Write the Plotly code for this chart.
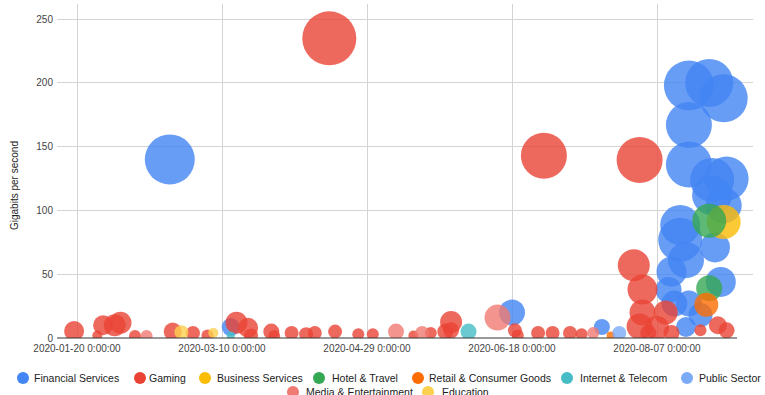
import plotly.graph_objects as go

# ---- data ----
categories = ["Financial Services", "Gaming", "Business Services", "Hotel & Travel",
              "Retail & Consumer Goods", "Internet & Telecom", "Public Sector",
              "Media & Entertainment", "Education"]
colors = ["#4285F4", "#EA4335", "#FBBC04", "#34A853", "#FF6D01", "#46BDC6",
          "#7BAAF7", "#F07B72", "#FCD04F"]

fin_dates = ["2020-02-21", "2020-03-13", "2020-06-18", "2020-07-19", "2020-08-18", "2020-08-25",
             "2020-08-30", "2020-08-18", "2020-08-18", "2020-08-31", "2020-08-26", "2020-08-26",
             "2020-08-30", "2020-08-15", "2020-08-15", "2020-08-17", "2020-08-27", "2020-08-12",
             "2020-08-29", "2020-08-11", "2020-08-13", "2020-08-18", "2020-08-22", "2020-08-17"]
fin_values = [140, 8.6, 20, 8.6, 198, 200, 188, 167, 136, 125, 124, 112,
              104, 88.6, 77, 61, 71, 52, 44, 37.6, 27, 27, 18, 8.6]
fin_sizes = [50, 18, 26, 16, 50, 48, 48, 46, 46, 44, 44, 40,
             36, 40, 44, 36, 30, 30, 30, 26, 26, 26, 24, 20]

gam_dates = ["2020-01-19", "2020-01-29", "2020-01-27", "2020-02-02", "2020-02-04", "2020-02-09",
             "2020-02-22", "2020-02-29", "2020-03-05", "2020-03-15", "2020-03-19", "2020-03-20",
             "2020-03-27", "2020-03-28", "2020-04-03", "2020-04-08", "2020-04-11", "2020-04-16",
             "2020-04-18", "2020-04-26", "2020-05-01", "2020-05-15", "2020-05-21", "2020-05-28",
             "2020-05-26", "2020-05-28", "2020-06-19", "2020-06-20", "2020-06-27", "2020-06-29",
             "2020-07-02", "2020-07-08", "2020-07-12", "2020-08-01", "2020-07-30", "2020-08-02",
             "2020-08-02", "2020-08-01", "2020-08-07", "2020-08-10", "2020-08-12", "2020-08-28",
             "2020-08-31", "2020-08-22", "2020-08-04"]
gam_values = [5.5, 10, 2, 10, 12, 1.5, 5, 4, 2, 12, 8, 2,
              5, 1.5, 4, 3, 4, 235, 5, 3, 3, 2, 4, 12.5,
              5, 6, 6, 2, 4, 143, 4, 4, 3, 139.5, 57, 38,
              20, 9, 8, 20, 4, 10, 6, 6, 4]
gam_sizes = [20, 20, 10, 22, 22, 12, 18, 14, 12, 22, 20, 14,
             16, 12, 14, 14, 14, 54, 14, 12, 12, 10, 12, 22,
             16, 16, 14, 12, 14, 46, 14, 14, 12, 46, 32, 30,
             26, 26, 24, 24, 16, 18, 16, 12, 16]

bus_dates = ["2020-08-30"]
bus_values = [91]
bus_sizes = [34]

hot_dates = ["2020-08-25", "2020-08-25"]
hot_values = [92, 39]
hot_sizes = [34, 26]

ret_dates = ["2020-08-24", "2020-07-22"]
ret_values = [26, 2]
ret_sizes = [24, 8]

int_dates = ["2020-06-03", "2020-03-13"]
int_values = [5, 2]
int_sizes = [16, 8]

pub_dates = ["2020-07-25"]
pub_values = [4]
pub_sizes = [14]

med_dates = ["2020-02-13", "2020-05-09", "2020-05-18", "2020-06-13", "2020-07-16"]
med_values = [1.5, 5, 4, 16, 4]
med_sizes = [12, 16, 14, 26, 12]

edu_dates = ["2020-02-25", "2020-03-07"]
edu_values = [4.5, 4]
edu_sizes = [14, 10]

series = [
    (fin_dates, fin_values, fin_sizes),
    (gam_dates, gam_values, gam_sizes),
    (bus_dates, bus_values, bus_sizes),
    (hot_dates, hot_values, hot_sizes),
    (ret_dates, ret_values, ret_sizes),
    (int_dates, int_values, int_sizes),
    (pub_dates, pub_values, pub_sizes),
    (med_dates, med_values, med_sizes),
    (edu_dates, edu_values, edu_sizes),
]

tick_dates = ["2020-01-20", "2020-03-10", "2020-04-29", "2020-06-18", "2020-08-07"]
tick_labels = [d + " 0:00:00" for d in tick_dates]
y_ticks = [0, 50, 100, 150, 200, 250]
y_title = "Gigabits per second"

FONT = "Liberation Sans, Arial, sans-serif"

fig = go.Figure()
for name, color, (d, v, s) in zip(categories, colors, series):
    order = sorted(range(len(s)), key=lambda i: -s[i])
    fig.add_trace(go.Scatter(
        x=[d[i] for i in order], y=[v[i] for i in order], mode="markers", name=name,
        marker=dict(size=[s[i] for i in order], sizemode="diameter", sizeref=1,
                    color=color, opacity=0.8, line=dict(width=0)),
        showlegend=False,
    ))

# plot-area geometry (plot area extends a bit right of the baseline so bubbles are not cut)
W, H = 765, 395
ML, MR, MT, MB = 57, 12, 4, 57
PW, PH = W - ML - MR, H - MT - MB
BASE_END = 737  # pixel where the visible baseline ends

def px_x(px):
    return (px - ML) / PW

def px_y(py):
    return (H - MB - py) / PH

legend_items = [
    # (category index, circle x, text x, row y)
    (0, 23, 33, 378), (1, 140, 148, 378), (2, 205, 216, 378), (3, 319, 331, 378),
    (4, 418, 428, 378), (5, 567, 579, 378), (6, 687, 698, 378),
    (7, 293, 305, 392), (8, 428, 441, 392),
]
shapes = [dict(type="line", xref="paper", yref="paper", x0=0, x1=px_x(BASE_END),
               y0=0, y1=0, line=dict(color="#333333", width=1), layer="above")]
annotations = []
for idx, cx, tx, ry in legend_items:
    shapes.append(dict(type="circle", xref="paper", yref="paper",
                       xsizemode="pixel", ysizemode="pixel",
                       xanchor=px_x(cx), yanchor=px_y(ry),
                       x0=-6, x1=6, y0=-6, y1=6,
                       fillcolor=colors[idx], line=dict(width=0)))
    annotations.append(dict(xref="paper", yref="paper", x=px_x(tx) - 0.002, y=px_y(ry),
                            xanchor="left", yanchor="middle", showarrow=False,
                            text=categories[idx],
                            font=dict(family=FONT, size=10.5, color="#222222")))

annotations.append(dict(xref="paper", yref="paper", x=px_x(14), y=px_y(186),
                        xanchor="center", yanchor="middle", showarrow=False,
                        textangle=-90, text=y_title,
                        font=dict(family=FONT, size=10, color="#222222")))

# x range chosen so that 2.9 px = 1 day and 2020-01-20 sits at pixel 77
x0_days = (ML - 77) / 2.9
x1_days = (W - MR - 77) / 2.9
import datetime as _dt
_base = _dt.datetime(2020, 1, 20)
x_range = [(_base + _dt.timedelta(days=x0_days)).isoformat(),
           (_base + _dt.timedelta(days=x1_days)).isoformat()]
y_top = (338 - MT) / 1.2752

fig.update_layout(
    width=W, height=H,
    margin=dict(l=ML, r=MR, t=MT, b=MB),
    paper_bgcolor="white", plot_bgcolor="white",
    font=dict(family=FONT, size=10, color="#444444"),
    shapes=shapes, annotations=annotations,
    xaxis=dict(
        type="date",
        range=x_range,
        tickvals=tick_dates, ticktext=tick_labels,
        showgrid=True, gridcolor="#d4d4d4", gridwidth=1,
        showline=False, zeroline=False, ticks="",
        ticklabelstandoff=3,
        tickfont=dict(family=FONT, size=10, color="#444444"),
    ),
    yaxis=dict(
        range=[0, y_top],
        tickvals=y_ticks,
        showgrid=True, gridcolor="#d4d4d4", gridwidth=1,
        zeroline=False, showline=False, ticks="",
        ticklabelstandoff=3,
        tickfont=dict(family=FONT, size=10, color="#444444"),
    ),
)

fig.write_html("out.html")
